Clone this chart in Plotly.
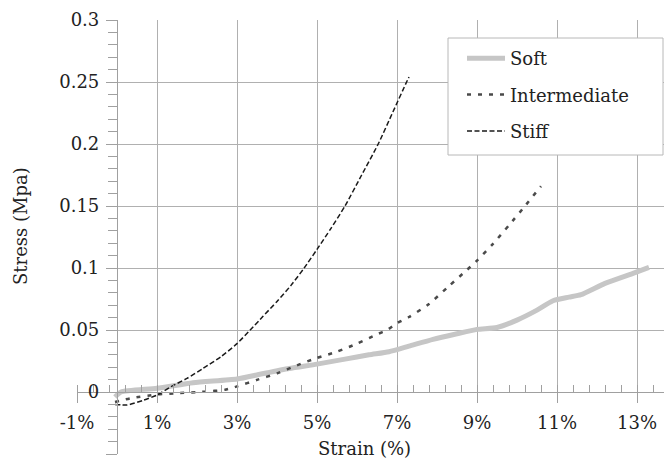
import plotly.graph_objects as go

# ---------------- data ----------------
soft_x = [-0.05, 0.1, 1.0, 1.9, 3.0, 3.6, 4.3, 5.0, 5.7, 6.3, 6.8, 7.3, 7.9, 8.5,
          9.0, 9.5, 10.0, 10.5, 10.9, 11.3, 11.6, 12.2, 12.9, 13.3]
soft_y = [-0.004, 0.0, 0.003, 0.0075, 0.0105, 0.0145, 0.019, 0.0225, 0.0265, 0.030,
          0.0325, 0.037, 0.0425, 0.047, 0.0505, 0.052, 0.058, 0.066, 0.0736, 0.0765,
          0.0785, 0.0876, 0.0957, 0.1005]

inter_x = [-0.05, 0.35, 1.0, 1.5, 2.2, 2.7, 3.0, 3.5, 4.0, 4.5, 5.0, 5.5, 6.0, 6.5,
           6.75, 7.0, 7.3, 7.8, 8.3, 8.75, 9.0, 9.4, 9.8, 10.2, 10.6]
inter_y = [-0.008, -0.005, -0.002, -0.001, 0.0003, 0.0018, 0.0045, 0.0098, 0.0150,
           0.0215, 0.0275, 0.0325, 0.039, 0.0465, 0.050, 0.0555, 0.0605, 0.071, 0.0855,
           0.0985, 0.106, 0.1195, 0.1345, 0.150, 0.166]

stiff_x = [-0.05, 0.25, 0.65, 1.0, 1.35, 1.75, 2.15, 2.6, 3.0, 3.33, 3.65, 4.0, 4.35,
           4.68, 5.0, 5.35, 5.7, 6.1, 6.53, 6.9, 7.24, 7.3]
stiff_y = [-0.010, -0.0105, -0.0068, -0.0025, 0.0043, 0.011, 0.019, 0.0285, 0.039,
           0.050, 0.061, 0.073, 0.086, 0.100, 0.115, 0.132, 0.150, 0.174, 0.200, 0.226,
           0.250, 0.254]

series_names = ["Soft", "Intermediate", "Stiff"]

x_tick_vals = [-1, 1, 3, 5, 7, 9, 11, 13]
x_tick_text = ["-1%", "1%", "3%", "5%", "7%", "9%", "11%", "13%"]
y_tick_vals = [-0.05, 0, 0.05, 0.1, 0.15, 0.2, 0.25, 0.3]
y_tick_text = ["-0.05", "0", "0.05", "0.1", "0.15", "0.2", "0.25", "0.3"]
x_title = "Strain (%)"
y_title = "Stress (Mpa)"

# ---------------- layout geometry (pixels of the 672x464 view) ----------------
VIEW_W, VIEW_H = 672, 464
OFF = 8                                  # page body margin
W, H = VIEW_W - OFF, VIEW_H - OFF
X0_PX, PX_PER_PCT = 117, 40.0            # 0 % strain at x=117 px
Y0_PX, PX_PER_UNIT = 392, 1240.0         # 0 MPa at y=392 px

def fx(px):
    return (px - OFF) / W

def fy(py):
    return 1 - (py - OFF) / H

def ypx(v):
    return Y0_PX - v * PX_PER_UNIT

x_max = (VIEW_W - X0_PX) / PX_PER_PCT
x_min = -1.0
y_min, y_max = -0.05, 0.3

FONT = "DejaVu Serif"
TXT = "#222222"
GRID = "#b0b0b0"
AX = "#a0a0a0"

fig = go.Figure()

styles = [
    dict(color="#c6c6c6", width=5),
    dict(color="#4a4a4a", width=2.5, dash="4px,7px"),
    dict(color="#1a1a1a", width=1.5, dash="5px,2.5px"),
]
all_x = [soft_x, inter_x, stiff_x]
all_y = [soft_y, inter_y, stiff_y]

# invisible copy on the grid subplot so that its grid gets drawn
fig.add_trace(go.Scatter(x=soft_x, y=soft_y, mode="lines", xaxis="x", yaxis="y",
                         line=dict(width=0, color="rgba(0,0,0,0)"), showlegend=False,
                         hoverinfo="skip"))

for name, xs, ys, st, g in zip(series_names, all_x, all_y, styles, ["a", "b", "c"]):
    fig.add_trace(go.Scatter(x=xs, y=ys, mode="lines", name=name, line=st,
                             line_shape="spline", line_smoothing=0.6,
                             xaxis="x2", yaxis="y2", legendgroup=g))

fig.update_layout(
    width=W, height=H,
    autosize=False,
    margin=dict(l=0, r=0, t=0, b=0, pad=0, autoexpand=False),
    paper_bgcolor="white",
    plot_bgcolor="rgba(0,0,0,0)",
    font=dict(family=FONT, size=18, color=TXT),
    # grid subplot (only draws the grid in the 0..0.3 region)
    xaxis=dict(domain=[fx(X0_PX), 1], range=[0, x_max], tickmode="linear", tick0=1, dtick=2,
               showgrid=True, gridcolor=GRID, gridwidth=1.2, showticklabels=False,
               ticks="", showline=False, zeroline=False, anchor="y"),
    yaxis=dict(domain=[fy(ypx(0)), fy(ypx(y_max))], range=[0, y_max], tickmode="linear",
               tick0=0, dtick=0.05, showgrid=True, gridcolor=GRID, gridwidth=1.2,
               showticklabels=False, ticks="", showline=False, zeroline=False, anchor="x"),
    # data subplot with visible axes
    xaxis2=dict(domain=[fx(X0_PX + x_min * PX_PER_PCT), 1], range=[x_min, x_max],
                anchor="free", position=fy(ypx(0)), side="bottom",
                tickmode="array", tickvals=x_tick_vals, ticktext=x_tick_text,
                ticks="outside", ticklen=10, tickcolor=AX, tickwidth=1.2,
                ticklabelstandoff=4,
                showline=True, linecolor=AX, linewidth=1.2,
                showgrid=False, zeroline=False, automargin=False,
                minor=dict(ticks="inside", ticklen=7, tickcolor=AX, tickwidth=1.2,
                           tickmode="linear", tick0=-1, dtick=0.4, showgrid=False),
                tickfont=dict(family=FONT, size=18, color=TXT)),
    yaxis2=dict(domain=[fy(ypx(y_min)), fy(ypx(y_max))], range=[y_min, y_max],
                anchor="free", position=fx(X0_PX), side="left",
                tickmode="array", tickvals=y_tick_vals, ticktext=y_tick_text,
                ticks="outside", ticklen=11, tickcolor=AX, tickwidth=1.2,
                ticklabelstandoff=3,
                showline=True, linecolor=AX, linewidth=1.2,
                showgrid=False, zeroline=False, automargin=False,
                minor=dict(ticks="outside", ticklen=9, tickcolor=AX, tickwidth=1.2,
                           tickmode="linear", tick0=0, dtick=0.01, showgrid=False),
                tickfont=dict(family=FONT, size=18, color=TXT)),
    showlegend=True,
    legend=dict(x=fx(462), y=fy(40), xanchor="left", yanchor="top",
                bgcolor="rgba(0,0,0,0)", borderwidth=0, itemwidth=38,
                font=dict(family=FONT, size=18, color=TXT),
                tracegroupgap=10, traceorder="grouped"),
    shapes=[
        dict(type="rect", xref="paper", yref="paper", x0=fx(448), x1=fx(663),
             y0=fy(155), y1=fy(38), line=dict(color="#b8b8b8", width=1),
             fillcolor="white", layer="above"),
    ],
    annotations=[
        dict(text=x_title, x=fx(364), y=fy(448), xref="paper", yref="paper",
             showarrow=False, xanchor="center", yanchor="middle",
             font=dict(family=FONT, size=18, color=TXT)),
        dict(text=y_title, x=fx(20), y=fy(226), xref="paper", yref="paper",
             showarrow=False, xanchor="center", yanchor="middle", textangle=-90,
             font=dict(family=FONT, size=18, color=TXT)),
    ],
)

fig.write_html("out.html")
